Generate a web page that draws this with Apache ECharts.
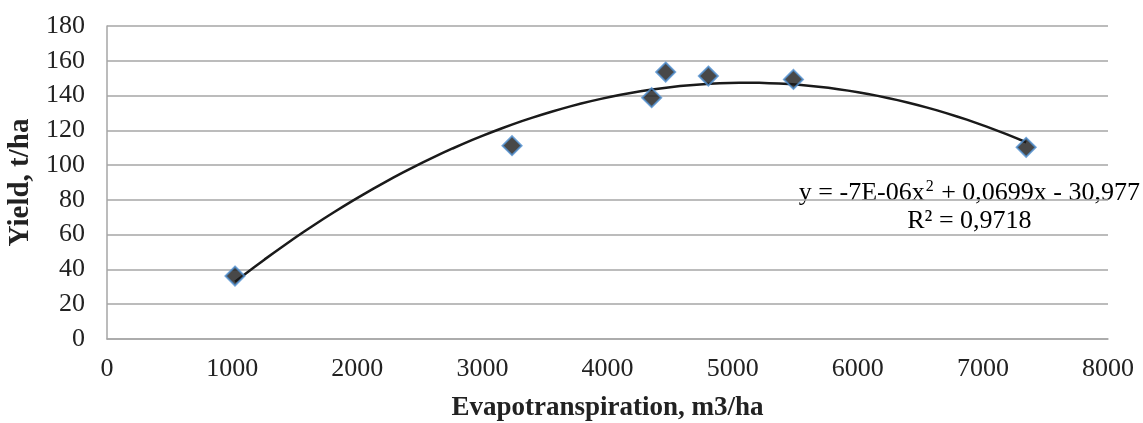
<!DOCTYPE html>
<html>
<head>
<meta charset="utf-8">
<script src="https://cdn.jsdelivr.net/npm/echarts@6/dist/echarts.min.js"></script>
<style>
  html, body { margin: 0; padding: 0; background: #fff; }
  #myChart { width: 1143px; height: 423px; }
</style>
</head>
<body>
<div id="myChart"></div>
<script>
// measured points
var evapo = [1023, 3237, 4353, 4465, 4806, 5486, 7346]
var yieldVals = [36.2, 111.2, 138.8, 153.5, 151.2, 149.3, 110.2]
var xTicks = [0, 1000, 2000, 3000, 4000, 5000, 6000, 7000, 8000]
var yTicks = [0, 20, 40, 60, 80, 100, 120, 140, 160, 180]
var eqText = '{a|y = -7E-06x}{s|2}{a| + 0,0699x - 30,977}\n{a|R² = 0,9718}'

// least squares quadratic fit (the chart's polynomial trendline)
function polyFit2(xs, ys) {
  var n = xs.length, s = [0, 0, 0, 0, 0], t = [0, 0, 0]
  for (var i = 0; i < n; i++) {
    var p = 1
    for (var k = 0; k < 5; k++) { s[k] += p; if (k < 3) t[k] += p * ys[i]; p *= xs[i] }
  }
  var m = [[s[0], s[1], s[2], t[0]], [s[1], s[2], s[3], t[1]], [s[2], s[3], s[4], t[2]]]
  for (var c = 0; c < 3; c++) {
    for (var r = c + 1; r < 3; r++) {
      var f = m[r][c] / m[c][c]
      for (var j = c; j < 4; j++) m[r][j] -= f * m[c][j]
    }
  }
  var coef = [0, 0, 0]
  for (var r2 = 2; r2 >= 0; r2--) {
    var v = m[r2][3]
    for (var j2 = r2 + 1; j2 < 3; j2++) v -= m[r2][j2] * coef[j2]
    coef[r2] = v / m[r2][r2]
  }
  return coef
}
var cf = polyFit2(evapo, yieldVals)
var trend = []
var x0 = Math.min.apply(null, evapo), x1 = Math.max.apply(null, evapo)
for (var k = 0; k <= 80; k++) {
  var xv = x0 + (x1 - x0) * k / 80
  trend.push([xv, cf[0] + cf[1] * xv + cf[2] * xv * xv])
}

var font = 'Liberation Serif'
var myChart = echarts.init(document.getElementById('myChart'))
myChart.setOption({
  animation: false,
  grid: { left: 107, right: 35, top: 26, bottom: 84, outerBoundsMode: 'none', containLabel: false },
  xAxis: {
    type: 'value',
    min: xTicks[0], max: xTicks[xTicks.length - 1], interval: 1000,
    name: 'Evapotranspiration, m3/ha',
    nameLocation: 'middle', nameGap: 56,
    nameTextStyle: { fontFamily: font, fontWeight: 'bold', fontSize: 27, color: '#222' },
    axisLine: { show: true, lineStyle: { color: '#a6a6a6', width: 1.5 } },
    axisTick: { show: false },
    splitLine: { show: false },
    axisLabel: {
      fontFamily: font, fontSize: 26, color: '#222', margin: 17,
      formatter: function (v) { return String(v) }
    }
  },
  yAxis: {
    type: 'value',
    min: yTicks[0], max: yTicks[yTicks.length - 1], interval: 20,
    name: 'Yield, t/ha',
    nameLocation: 'middle', nameGap: 71,
    nameTextStyle: { fontFamily: font, fontWeight: 'bold', fontSize: 29, color: '#222' },
    axisLine: { show: true, lineStyle: { color: '#a6a6a6', width: 1.5 } },
    axisTick: { show: false },
    splitLine: { show: true, lineStyle: { color: '#a6a6a6', width: 1.5 } },
    axisLabel: { fontFamily: font, fontSize: 26, color: '#222', margin: 22 }
  },
  series: [
    {
      type: 'line',
      data: trend,
      showSymbol: false,
      smooth: false,
      lineStyle: { color: '#1a1a1a', width: 2.5 },
      z: 2
    },
    {
      type: 'scatter',
      data: evapo.map(function (x, i) { return [x, yieldVals[i]] }),
      symbol: 'diamond',
      symbolSize: [19, 19],
      itemStyle: { color: '#1a1a1a', borderColor: '#4f8fd0', borderWidth: 2 },
      z: 3
    }
  ],
  graphic: [{
    type: 'text',
    right: 3, top: 179,
    style: {
      text: eqText,
      textAlign: 'center',
      rich: {
        a: { fontFamily: font, fontSize: 26, color: '#222', lineHeight: 28 },
        s: { fontFamily: font, fontSize: 16, color: '#222', lineHeight: 28, verticalAlign: 'top', padding: [0, 1, 0, 1] }
      }
    }
  }]
})
</script>
</body>
</html>
